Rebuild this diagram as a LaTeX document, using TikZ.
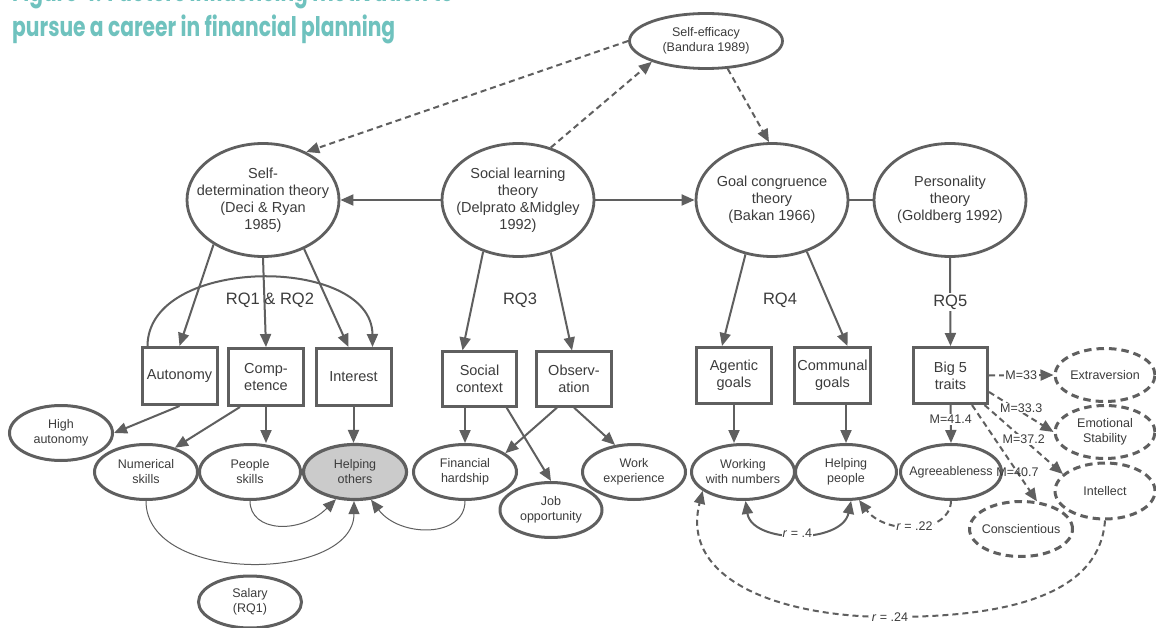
\documentclass[tikz,border=0pt]{standalone}
\usepackage{fontspec}
\setmainfont{Liberation Sans}
\newfontfamily\titlefont{Poppins}
\usetikzlibrary{arrows.meta,shapes.geometric}
\definecolor{ln}{HTML}{5F5F5F}
\definecolor{tx}{HTML}{3C3C3C}
\definecolor{ttl}{HTML}{6FC2BE}
\definecolor{hfill}{HTML}{CBCBCB}
\tikzset{
 base/.style={text=tx, align=center},
 bigt/.style={font=\fontsize{14.5}{17}\selectfont},
 smlt/.style={font=\fontsize{12.5}{15}\selectfont},
 theory/.style={draw=ln, line width=2.8pt, ellipse, inner sep=0pt, minimum width=152pt, minimum height=113pt},
 ell/.style={draw=ln, line width=3pt, ellipse, inner sep=0pt, minimum width=103pt, minimum height=55pt},
 dell/.style={ell, dash pattern=on 7.5pt off 5pt},
 boxn/.style={draw=ln, line width=3pt, rectangle, minimum width=75pt, minimum height=56pt, inner sep=1pt, base, bigt},
 tipa/.style={-{Triangle[length=13pt,width=11pt]}},
 arr/.style={draw=ln, line width=2pt, tipa},
 darr/.style={arr, dash pattern=on 6pt off 4pt},
 thinarr/.style={draw=ln, line width=1pt, tipa},
 botharr/.style={draw=ln, line width=2pt, {Triangle[length=13pt,width=11pt]}-{Triangle[length=13pt,width=11pt]}},
 lab/.style={fill=white, inner sep=1pt, text=tx, font=\fontsize{12.5}{14}\selectfont},
 rq/.style={text=tx, font=\fontsize{16.5}{18}\selectfont, fill=white, inner sep=2pt},
}
\begin{document}
\begin{tikzpicture}[x=1pt,y=-1pt]
\useasboundingbox (0,0) rectangle (1156,628);
\clip (0,0) rectangle (1156,628);
\fill[white] (0,0) rectangle (1156,628);

% title
\node[anchor=base west, text=ttl, inner sep=0pt, font=\titlefont\bfseries\fontsize{27}{27}\selectfont] (t1) at (12,2) {\scalebox{0.75}[1]{Figure 4: Factors influencing motivation to}};
\node[anchor=base west, text=ttl, inner sep=0pt, font=\titlefont\bfseries\fontsize{27}{27}\selectfont] (t2) at (12,37) {\scalebox{0.75}[1]{pursue a career in financial planning}};

% theory ellipses
\node[theory, minimum width=153pt, minimum height=55pt, label={[base,smlt]center:Self-efficacy\\(Bandura 1989)}] (se) at (706,41) {};
\node[theory, label={[base,bigt]center:Self-\\determination theory\\(Deci \& Ryan\\1985)}] (sdt) at (263,200) {};
\node[theory, label={[base,bigt]center:Social learning\\theory\\(Delprato \&Midgley\\1992)}] (slt) at (518,200) {};
\node[theory, label={[base,bigt]center:Goal congruence\\theory\\(Bakan 1966)}] (goal) at (772,200) {};
\node[theory, label={[base,bigt]center:Personality\\theory\\(Goldberg 1992)}] (pers) at (950,200) {};

% boxes
\node[boxn, minimum height=57pt] (aut) at (179.5,376) {Autonomy};
\node[boxn, minimum height=57pt] (comp) at (266,377) {Comp-\\etence};
\node[boxn, minimum height=57pt] (intr) at (353.5,377) {Interest};
\node[boxn, line width=2.2pt, minimum width=74pt, minimum height=55pt] (sc) at (479.5,379) {Social\\context};
\node[boxn, line width=2.2pt, minimum height=55pt] (obs) at (574,379) {Observ-\\ation};
\node[boxn] (agt) at (734,375.5) {Agentic\\goals};
\node[boxn, minimum width=76pt] (com) at (832.5,375.5) {Communal\\goals};
\node[boxn, minimum width=74pt] (big) at (950.5,375.5) {Big 5\\traits};

% outcome ellipses
\node[ell, label={[base,smlt]center:High\\autonomy}] (hia) at (61,433) {};
\node[ell, label={[base,smlt]center:Numerical\\skills}] (num) at (146,472) {};
\node[ell, minimum width=101pt, label={[base,smlt]center:People\\skills}] (ppl) at (250,472) {};
\node[ell, fill=hfill, line width=3.2pt, label={[base,smlt]center:Helping\\others}] (help) at (355,472) {};
\node[ell, minimum height=52pt, label={[base,smlt]center:Salary\\(RQ1)}] (sal) at (250,602) {};
\node[ell, label={[base,smlt]center:Financial\\hardship}] (fin) at (465,472) {};
\node[ell, minimum width=102pt, label={[base,smlt]center:Job\\opportunity}] (job) at (551,510) {};
\node[ell, label={[base,smlt]center:Work\\experience}] (work) at (634,472) {};
\node[ell, label={[base,smlt]center:Working\\with numbers}] (wwn) at (743,472) {};
\node[ell, minimum width=101pt, label={[base,smlt]center:Helping\\people}] (hpp) at (846,472) {};
\node[ell, minimum width=101pt, label={[base,smlt]center:Agreeableness}] (agr) at (951,472) {};
\node[dell, minimum width=100pt, minimum height=53pt, label={[base,smlt]center:Extraversion}] (ext) at (1105,375) {};
\node[dell, minimum width=100pt, minimum height=53pt, label={[base,smlt]center:Emotional\\Stability}] (emo) at (1105,432) {};
\node[dell, minimum width=100pt, minimum height=56pt, label={[base,smlt]center:Intellect}] (intl) at (1105,491) {};
\node[dell, label={[base,smlt]center:Conscientious}] (con) at (1021,529) {};

% theory level
\draw[arr] (slt.west) -- (sdt.east);
\draw[arr] (slt.east) -- (goal.west);
\draw[draw=ln, line width=2pt] (goal.east) -- (pers.west);
\draw[darr] (se.west) -- (sdt.48.7);
\draw[darr] (slt.58.9) -- (se.201.6);
\draw[darr] (se.-52) -- ([xshift=-3pt]goal.north);

% SDT
\draw[arr] (sdt.222) -- (aut.north);
\draw[arr] (sdt.south) -- (comp.north);
\draw[arr] (sdt.310) -- ([xshift=-5pt]intr.north);
\draw[arr] ([xshift=7pt]aut.north west) .. controls (148,255) and (372,255) .. ([xshift=-20pt]intr.north east);
\node[rq, fill=none] (rq12) at (270,300) {RQ1 \& RQ2};

% SLT
\draw[arr] (slt.236.6) -- ([xshift=-17pt]sc.north);
\draw[arr] (slt.302.7) -- ([xshift=-2pt]obs.north);
\node[rq, fill=none] (rq3) at (520,300) {RQ3};

% Goal
\draw[arr] (goal.244.7) -- ([xshift=-12pt]agt.north);
\draw[arr] (goal.304.7) -- ([xshift=15pt]com.north);
\node[rq, fill=none] (rq4) at (780,300) {RQ4};

% Personality
\draw[arr] (pers.south) -- node[rq] {RQ5} (big.north);
\draw[arr] (big.south) -- node[lab, pos=0.38] {M=41.4} (agr.north);

% boxes to outcomes
\draw[arr] (aut.south) -- (hia.east);
\draw[arr] ([xshift=-26pt]comp.south) -- (num.40);
\draw[arr] (comp.south) -- (comp.south |- ppl.north);
\draw[arr] (intr.south) -- (intr.south |- help.north);
\draw[arr] (fin.north |- sc.south) -- (fin.north);
\draw[arr] ([xshift=-11pt]sc.south east) -- (job.north);
\draw[arr] ([xshift=-17pt]obs.south) -- (fin.25);
\draw[arr] (obs.south) -- (work.125);
\draw[arr] (agt.south) -- (agt.south |- wwn.north);
\draw[arr] (hpp.north |- com.south) -- (hpp.north);

% Big 5 dashed
\draw[darr] (big.east) -- node[lab] {M=33} (ext.west);
\draw[darr] ([yshift=-16.5pt]big.east) -- node[lab, pos=0.5, yshift=4pt] {M=33.3} (emo.west);
\draw[darr] ([xshift=34pt]big.south) -- node[lab, pos=0.5] {M=37.2} (intl.158);
\draw[darr] ([xshift=21.5pt]big.south) -- node[lab, pos=0.7, fill=none] {M=40.7} (con.60);

% correlations
\draw[botharr] (wwn.-85) .. controls (752,544) and (842,544) .. node[lab] {\textit{r} = .4} (hpp.-80);
\draw[darr] (agr.south) .. controls (950,535) and (885,535) .. node[lab, pos=0.5] {\textit{r} = .22} (hpp.-65);
\draw[darr] (intl.south) .. controls (1100,590) and (1020,617) .. (890,617) node[lab] {\textit{r} = .24} .. controls (780,617) and (680,580) .. (wwn.205);

% thin curves to helping others
\draw[thinarr] (ppl.south) .. controls (250,532) and (300,535) .. (help.235);
\draw[thinarr] (num.south) .. controls (146,585) and (354,582) .. ([xshift=-1pt]help.south);
\draw[thinarr] (fin.south) .. controls (465,538) and (400,538) .. (help.-60);
\end{tikzpicture}
\end{document}
